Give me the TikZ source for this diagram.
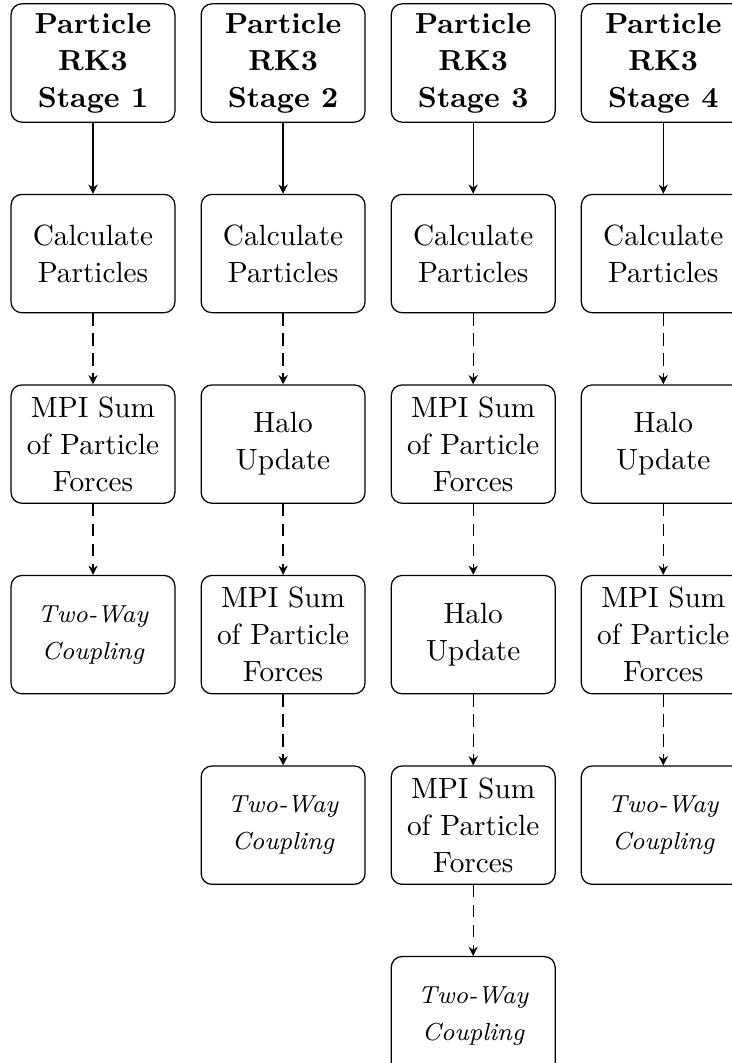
\documentclass[tikz,border=0pt]{standalone}
\usepackage{tikz}
\usetikzlibrary{arrows.meta,positioning}
\tikzset{
  stepbox/.style={draw, rounded corners=3.5pt, align=center,
    minimum width=1.87cm, minimum height=1.35cm, inner sep=2pt,
    font=\fontsize{9.5}{12}\selectfont},
  headbox/.style={stepbox, font=\fontsize{9.4}{12}\selectfont\bfseries},
  couplebox/.style={stepbox, font=\fontsize{8}{12}\selectfont\itshape},
  arr/.style={-{Stealth[length=3pt,width=3pt]}},
  dasharr/.style={arr, dash pattern=on 4pt off 2.5pt}
}
\begin{document}
\begin{tikzpicture}[node distance=0.81cm and 0.285cm]
  \useasboundingbox (-1.061,0.719) rectangle (7.291,-11.41);
  \clip (-1.061,0.719) rectangle (7.291,-11.41);
  % stage headers
  \node[headbox] (stage1) at (0,0) {Particle\\RK3\\Stage 1};
  \node[headbox, right=of stage1] (stage2) {Particle\\RK3\\Stage 2};
  \node[headbox, right=of stage2] (stage3) {Particle\\RK3\\Stage 3};
  \node[headbox, right=of stage3] (stage4) {Particle\\RK3\\Stage 4};
  % stage 1
  \node[stepbox, below=of stage1] (calc1) {Calculate\\Particles};
  \node[stepbox, below=of calc1] (sum1) {MPI Sum\\of Particle\\Forces};
  \node[couplebox, below=of sum1] (couple1) {Two-Way\\Coupling};
  % stage 2
  \node[stepbox, below=of stage2] (calc2) {Calculate\\Particles};
  \node[stepbox, below=of calc2] (halo2) {Halo\\Update};
  \node[stepbox, below=of halo2] (sum2) {MPI Sum\\of Particle\\Forces};
  \node[couplebox, below=of sum2] (couple2) {Two-Way\\Coupling};
  % stage 3
  \node[stepbox, below=of stage3] (calc3) {Calculate\\Particles};
  \node[stepbox, below=of calc3] (presum3) {MPI Sum\\of Particle\\Forces};
  \node[stepbox, below=of presum3] (halo3) {Halo\\Update};
  \node[stepbox, below=of halo3] (sum3) {MPI Sum\\of Particle\\Forces};
  \node[couplebox, below=of sum3] (couple3) {Two-Way\\Coupling};
  % stage 4
  \node[stepbox, below=of stage4] (calc4) {Calculate\\Particles};
  \node[stepbox, below=of calc4] (halo4) {Halo\\Update};
  \node[stepbox, below=of halo4] (sum4) {MPI Sum\\of Particle\\Forces};
  \node[couplebox, below=of sum4] (couple4) {Two-Way\\Coupling};
  % connectors
  \foreach \i in {1,...,4}
    \draw[arr] (stage\i) -- (calc\i);
  \foreach \a/\b in {calc1/sum1, sum1/couple1,
      calc2/halo2, halo2/sum2, sum2/couple2,
      calc3/presum3, presum3/halo3, halo3/sum3, sum3/couple3,
      calc4/halo4, halo4/sum4, sum4/couple4}
    \draw[dasharr] (\a) -- (\b);
\end{tikzpicture}
\end{document}
